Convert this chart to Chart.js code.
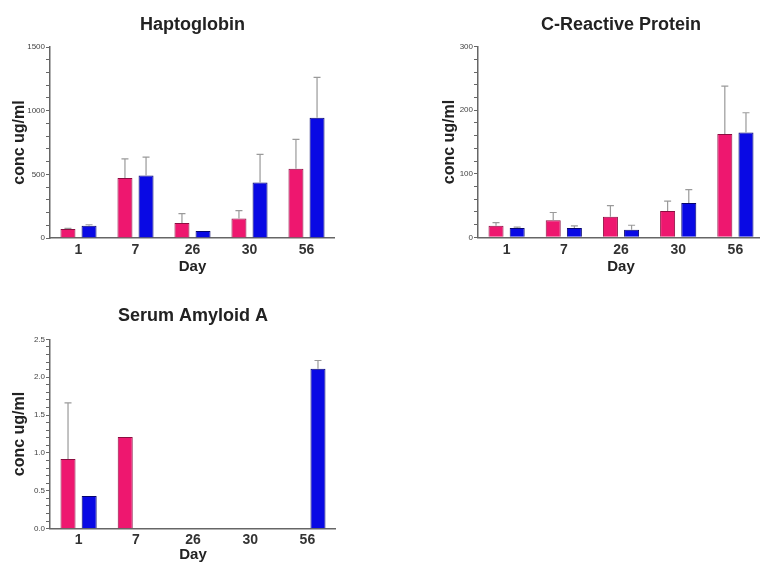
<!DOCTYPE html>
<html>
<head>
<meta charset="utf-8">
<script src="https://cdn.jsdelivr.net/npm/chart.js@4"></script>
<style>
  html, body { margin: 0; padding: 0; background: #fff; overflow: hidden; }
  #wrap { position: relative; width: 760px; height: 565px; }
  canvas { position: absolute; }
</style>
</head>
<body>
<div id="wrap">
  <canvas id="chart-hapto" width="335" height="280" style="left:0;top:0"></canvas>
  <canvas id="chart-crp" width="334" height="280" style="left:430px;top:0"></canvas>
  <canvas id="chart-saa" width="336" height="275" style="left:0;top:290px"></canvas>
</div>
<script>
// Acute phase proteins by day, two groups (pink / blue), mean + SD

const days = ["1", "7", "26", "30", "56"];

// Haptoglobin (ug/ml)
const haptoPink    = [71, 472, 118, 154, 543];
const haptoPinkSd  = [5, 150, 73, 61, 231];
const haptoBlue    = [97, 490, 55, 435, 945];
const haptoBlueSd  = [7, 145, 0, 221, 317];

// C-Reactive Protein (ug/ml)
const crpPink   = [18, 27, 32.5, 41.5, 162.5];
const crpPinkSd = [5, 12, 17.5, 15.5, 75.5];
const crpBlue   = [14.5, 14.5, 12, 54, 165];
const crpBlueSd = [1.5, 3.5, 7, 21, 31];

// Serum Amyloid A (ug/ml)
const saaPink   = [0.92, 1.21, null, null, null];
const saaPinkSd = [0.74, 0, 0, 0, 0];
const saaBlue   = [0.43, null, null, null, 2.11];
const saaBlueSd = [0, 0, 0, 0, 0.11];

const FONT = "'Liberation Sans', Arial, sans-serif";
const PINK = "#ee176f";
const BLUE = "#0909e4";

// draws the upward error bar with a small cap on each bar
const errorBars = {
  id: "errorBars",
  afterDatasetsDraw(chart) {
    const ctx = chart.ctx;
    const y = chart.scales.y;
    ctx.save();
    ctx.strokeStyle = "#9a9a9a";
    ctx.lineWidth = 1.2;
    chart.data.datasets.forEach((ds, i) => {
      const meta = chart.getDatasetMeta(i);
      meta.data.forEach((bar, j) => {
        const v = ds.data[j];
        const e = ds.errors[j];
        if (v == null || !e) return;
        const top = y.getPixelForValue(v + e);
        ctx.beginPath();
        ctx.moveTo(bar.x, bar.y);
        ctx.lineTo(bar.x, top);
        ctx.moveTo(bar.x - 3.5, top);
        ctx.lineTo(bar.x + 3.5, top);
        ctx.stroke();
      });
    });
    ctx.restore();
  }
};

function makeChart(id, title, pink, pinkSd, blue, blueSd, cfg) {
  return new Chart(document.getElementById(id), {
    type: "bar",
    data: {
      labels: days,
      datasets: [
        { data: pink, errors: pinkSd, backgroundColor: PINK, borderColor: "#8c0d40", borderWidth: 1 },
        { data: blue, errors: blueSd, backgroundColor: BLUE, borderColor: "#05056e", borderWidth: 1 }
      ]
    },
    options: {
      responsive: false,
      animation: false,
      categoryPercentage: 0.74,
      barPercentage: 0.71,
      layout: { padding: 0 },
      scales: {
        x: {
          offset: true,
          grid: { display: false, drawTicks: false, tickLength: 0 },
          border: { display: true, color: "#666", width: 1.5 },
          ticks: { color: "#333", font: { family: FONT, size: 14, weight: "bold" }, padding: cfg.xTickPad },
          title: { display: true, text: "Day", color: "#222", font: { family: FONT, size: 15, weight: "bold" }, padding: { top: 0, bottom: cfg.dayPad } },
          afterFit: s => { s.height = cfg.xHeight; }
        },
        y: {
          min: 0,
          max: cfg.max,
          grid: { drawOnChartArea: false, drawTicks: true, tickLength: 4, color: "#666" },
          border: { display: true, color: "#666", width: 1.5 },
          ticks: {
            stepSize: cfg.minor,
            autoSkip: false,
            color: "#444",
            padding: 1,
            font: { family: FONT, size: 8 },
            callback: v => {
              const r = v / cfg.major;
              return Math.abs(r - Math.round(r)) < 1e-6 ? cfg.fmt(v) : "";
            }
          },
          title: { display: true, text: "conc ug/ml", color: "#222", font: { family: FONT, size: 16, weight: "bold" }, padding: { top: 10, bottom: 0 } },
          afterFit: s => { s.width = cfg.yWidth; }
        }
      },
      plugins: {
        legend: { display: false },
        tooltip: { enabled: false },
        title: {
          display: true,
          text: title,
          fullSize: false,
          color: "#222",
          font: { family: FONT, size: 18, weight: "bold" },
          padding: { top: cfg.titleTop, bottom: cfg.titleBottom }
        }
      }
    },
    plugins: [errorBars]
  });
}

makeChart("chart-hapto", "Haptoglobin", haptoPink, haptoPinkSd, haptoBlue, haptoBlueSd, {
  max: 1500, major: 500, minor: 100, fmt: v => String(Math.round(v)),
  yWidth: 50, xHeight: 42, xTickPad: 4, dayPad: 4.3, titleTop: 14, titleBottom: 11.4
});

makeChart("chart-crp", "C-Reactive Protein", crpPink, crpPinkSd, crpBlue, crpBlueSd, {
  max: 300, major: 100, minor: 20, fmt: v => String(Math.round(v)),
  yWidth: 48, xHeight: 42.7, xTickPad: 4, dayPad: 4.3, titleTop: 14, titleBottom: 11.1
});

makeChart("chart-saa", "Serum Amyloid A", saaPink, saaPinkSd, saaBlue, saaBlueSd, {
  max: 2.5, major: 0.5, minor: 0.1, fmt: v => v.toFixed(1),
  yWidth: 50, xHeight: 36.3, xTickPad: 3, dayPad: 1, titleTop: 15.2, titleBottom: 12.5
});
</script>
</body>
</html>
